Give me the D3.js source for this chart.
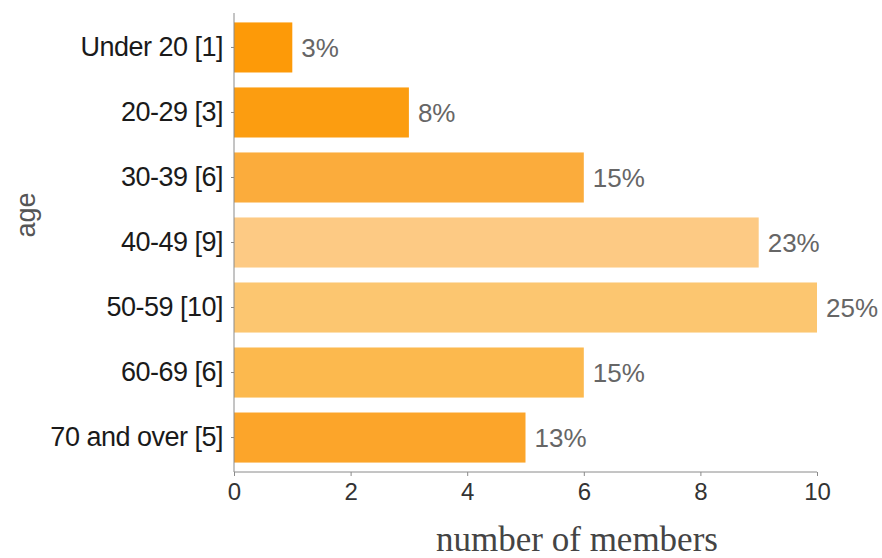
<!DOCTYPE html>
<html lang="en">
<head>
    <meta charset="UTF-8">
    <title>Members by age</title>
    <script src="https://d3js.org/d3.v7.min.js"></script>
    <style>
        body {
            margin: 0;
            background-color: #fff;
        }
        svg {
            display: block;
            font-family: 'Liberation Sans', Arial, sans-serif;
        }
        .x-axis .tick text {
            font-size: 24px;
            fill: #333;
        }
        .domain, .tick line {
            stroke: #8a8a8a;
        }
        .y-axis .tick text {
            font-size: 27px;
            fill: #1a1a1a;
            letter-spacing: -0.5px;
        }
        .pct-label {
            font-size: 26px;
            fill: #666;
        }
        .axis-title {
            fill: #555;
        }
    </style>
</head>
<body>

<svg id="chart" width="882" height="558"></svg>

<script>
    // data
    var ageGroups = ["Under 20", "20-29", "30-39", "40-49", "50-59", "60-69", "70 and over"];
    var members = [1, 3, 6, 9, 10, 6, 5];
    var percents = ["3%", "8%", "15%", "23%", "25%", "15%", "13%"];
    var xTicks = [0, 2, 4, 6, 8, 10];
    var barColors = ["#fd9a08", "#fc9d10", "#fbac3c", "#fdca84", "#fcc670", "#fcb94e", "#fca52a"];

    var data = ageGroups.map(function(g, i) {
        return {group: g, count: members[i], pct: percents[i], color: barColors[i]};
    });

    var svg = d3.select("#chart"),
        margin = {top: 13, right: 65, bottom: 86, left: 234},
        width = +svg.attr("width") - margin.left - margin.right,
        height = +svg.attr("height") - margin.top - margin.bottom;

    var x = d3.scaleLinear().domain([0, 10]).range([0, width]);
    var y = d3.scaleBand()
        .domain(data.map(function(d) { return d.group; }))
        .range([0, height])
        .paddingInner(0.23)
        .paddingOuter(0.145);

    var g = svg.append("g").attr("transform", "translate(" + margin.left + "," + margin.top + ")");

    // bars
    g.selectAll(".bar").data(data).enter().append("rect")
        .attr("class", "bar")
        .attr("x", x(0))
        .attr("y", function(d) { return y(d.group); })
        .attr("width", function(d) { return x(d.count) - x(0); })
        .attr("height", y.bandwidth())
        .attr("fill", function(d) { return d.color; });

    // percent labels
    g.selectAll(".pct-label").data(data).enter().append("text")
        .attr("class", "pct-label")
        .attr("x", function(d) { return x(d.count) + 9; })
        .attr("y", function(d) { return y(d.group) + y.bandwidth() / 2; })
        .attr("dy", "0.36em")
        .text(function(d) { return d.pct; });

    // x axis
    var xAxis = g.append("g")
        .attr("class", "x-axis")
        .attr("transform", "translate(0," + height + ")")
        .call(d3.axisBottom(x).tickValues(xTicks).tickSize(4).tickPadding(7));

    // y axis
    var yAxis = g.append("g")
        .attr("class", "y-axis")
        .call(d3.axisLeft(y).tickSize(3).tickPadding(8).tickFormat(function(d, i) {
            return d + " [" + members[i] + "]";
        }));
    yAxis.select(".domain").attr("d", "M0,0V" + height);
    xAxis.select(".domain").attr("d", "M0,0H" + width);

    // axis titles
    svg.append("text")
        .attr("class", "axis-title")
        .attr("transform", "translate(35,215) rotate(-90)")
        .attr("text-anchor", "middle")
        .style("font-size", "27px")
        .text("age");

    svg.append("text")
        .attr("class", "axis-title")
        .attr("x", 577)
        .attr("y", 551)
        .attr("text-anchor", "middle")
        .style("font-family", "'Liberation Serif', 'Times New Roman', serif")
        .style("font-size", "35px")
        .style("fill", "#444")
        .text("number of members");
</script>
</body>
</html>
